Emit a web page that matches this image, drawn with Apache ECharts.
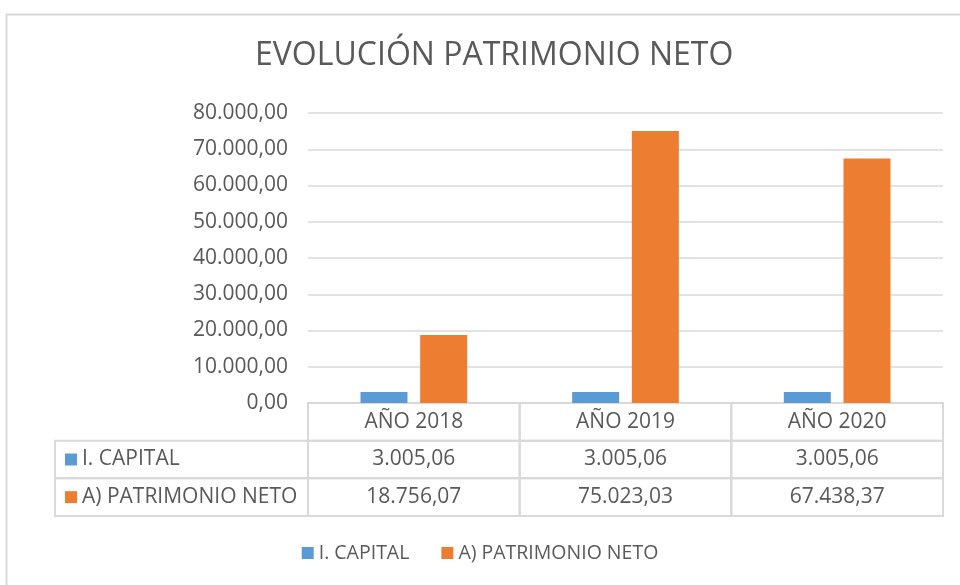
<!DOCTYPE html>
<html>
<head>
<meta charset="utf-8">
<script src="https://cdn.jsdelivr.net/npm/echarts@6/dist/echarts.min.js"></script>
<style>
  html, body { margin: 0; padding: 0; background: #fff; }
  #chart { width: 960px; height: 585px; }
</style>
</head>
<body>
<div id="chart"></div>
<script>
// datos
const categories = ['AÑO 2018', 'AÑO 2019', 'AÑO 2020'];
const seriesNames = ['I. CAPITAL', 'A) PATRIMONIO NETO'];
const capital = [3005.06, 3005.06, 3005.06];
const patrimonio = [18756.07, 75023.03, 67438.37];
const yMin = 0, yMax = 80000, yStep = 10000;

const colors = ['#5b9bd5', '#ed7d31'];
const textColor = '#595959';
const lineColor = '#d9d9d9';
const fontFam = '"Open Sans", sans-serif';

// formato español: 18.756,07
function fmt(v) {
  const parts = v.toFixed(2).split('.');
  const ent = parts[0].replace(/\B(?=(\d{3})+(?!\d))/g, '.');
  return ent + ',' + parts[1];
}

// celdas de la tabla: [columna, fila, texto]
const rowNames = ['', seriesNames[0], seriesNames[1]];
const tableCells = [];
categories.forEach((c, i) => tableCells.push([i, 0, c]));
[capital, patrimonio].forEach((arr, r) => {
  tableCells.push([-1, r + 1, seriesNames[r]]);
  arr.forEach((v, i) => tableCells.push([i, r + 1, fmt(v)]));
});

const chart = echarts.init(document.getElementById('chart'));

const option = {
  animation: false,
  color: colors,
  title: {
    text: 'EVOLUCIÓN PATRIMONIO NETO',
    left: 250,
    top: 35,
    textStyle: { color: textColor, fontSize: 32, fontWeight: 'normal', fontFamily: fontFam }
  },
  graphic: [{
    type: 'rect',
    shape: { x: 6.5, y: 14.5, width: 1000, height: 1000 },
    style: { fill: 'none', stroke: lineColor, lineWidth: 2 },
    silent: true
  }],
  legend: {
    data: seriesNames,
    top: 538,
    left: 'center',
    icon: 'rect',
    itemWidth: 12,
    itemHeight: 12,
    itemGap: 32,
    textStyle: { color: textColor, fontSize: 19.5, fontFamily: fontFam }
  },
  grid: [
    { left: 308, right: 17, top: 113, height: 290 },
    { left: 308, right: 17, top: 403, height: 113 }
  ],
  xAxis: [
    {
      type: 'category', gridIndex: 0, data: categories,
      axisLine: { show: false }, axisTick: { show: false }, axisLabel: { show: false }
    },
    {
      type: 'category', gridIndex: 1, data: categories,
      axisLine: { show: false }, axisTick: { show: false }, axisLabel: { show: false }
    }
  ],
  yAxis: [
    {
      type: 'value', gridIndex: 0, min: yMin, max: yMax, interval: yStep,
      axisLine: { show: false }, axisTick: { show: false },
      splitLine: { lineStyle: { color: lineColor, width: 1.5 } },
      axisLabel: {
        color: textColor, fontSize: 21, fontFamily: fontFam, margin: 20,
        formatter: v => fmt(v)
      }
    },
    {
      type: 'category', gridIndex: 1, data: rowNames, inverse: true,
      axisLine: { show: false }, axisTick: { show: false }, axisLabel: { show: false }
    }
  ],
  series: [
    {
      name: seriesNames[0], type: 'bar', xAxisIndex: 0, yAxisIndex: 0,
      data: capital, barWidth: 47, barGap: '27%'
    },
    {
      name: seriesNames[1], type: 'bar', xAxisIndex: 0, yAxisIndex: 0,
      data: patrimonio, barWidth: 47, barGap: '27%'
    },
    {
      type: 'custom', xAxisIndex: 1, yAxisIndex: 1, silent: true,
      data: tableCells,
      renderItem: function (params, api) {
        const col = api.value(0), row = api.value(1);
        const text = tableCells[params.dataIndex][2];
        const cw = api.size([1, 0])[0];
        const rh = api.size([0, 1])[1];
        const cy = api.coord([0, row])[1];
        let x0, x1;
        if (col < 0) {
          x1 = api.coord([0, row])[0] - cw / 2;
          x0 = 55;
        } else {
          const cx = api.coord([col, row])[0];
          x0 = cx - cw / 2;
          x1 = cx + cw / 2;
        }
        const children = [{
          type: 'rect',
          shape: { x: x0, y: cy - rh / 2, width: x1 - x0, height: rh },
          style: { fill: 'none', stroke: lineColor, lineWidth: 2 }
        }];
        if (col < 0) {
          children.push({
            type: 'rect',
            shape: { x: x0 + 10, y: cy - 6, width: 12, height: 12 },
            style: { fill: colors[row - 1] }
          });
          children.push({
            type: 'text',
            style: { text: text, x: x0 + 27, y: cy, align: 'left', verticalAlign: 'middle',
              font: '21px ' + fontFam, fill: textColor }
          });
        } else {
          children.push({
            type: 'text',
            style: { text: text, x: (x0 + x1) / 2, y: cy, align: 'center', verticalAlign: 'middle',
              font: '21px ' + fontFam, fill: textColor }
          });
        }
        return { type: 'group', children: children };
      }
    }
  ]
};

chart.setOption(option);
</script>
</body>
</html>
